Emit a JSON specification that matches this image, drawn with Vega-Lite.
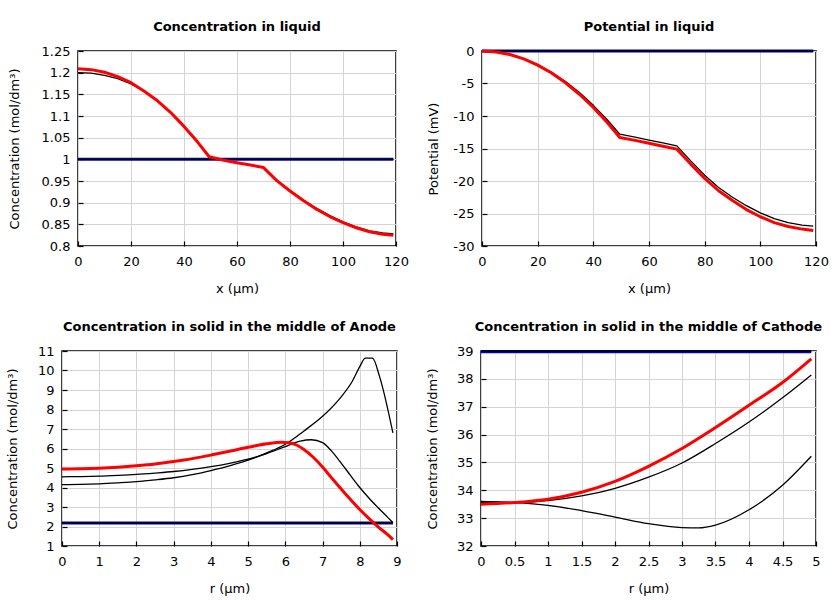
{
  "$schema": "https://vega.github.io/schema/vega-lite/v6.json",
  "padding": {"left": 5, "top": 20, "right": 5, "bottom": 5},
  "background": "white",
  "datasets": {
    "liq": [
      {"s": "blue", "x": 0, "y": 1}, {"s": "blue", "x": 119, "y": 1},
      {"s": "k0", "x": 0, "y": 1}, {"s": "k0", "x": 119, "y": 1},
      {"s": "k1", "x": 0, "y": 1.2}, {"s": "k1", "x": 5, "y": 1.199}, {"s": "k1", "x": 10, "y": 1.194}, {"s": "k1", "x": 15, "y": 1.186}, {"s": "k1", "x": 20, "y": 1.174}, {"s": "k1", "x": 25, "y": 1.157}, {"s": "k1", "x": 30, "y": 1.135}, {"s": "k1", "x": 35, "y": 1.107}, {"s": "k1", "x": 40, "y": 1.075}, {"s": "k1", "x": 45, "y": 1.04}, {"s": "k1", "x": 49.5, "y": 1.006}, {"s": "k1", "x": 55, "y": 0.998}, {"s": "k1", "x": 60, "y": 0.992}, {"s": "k1", "x": 65, "y": 0.987}, {"s": "k1", "x": 70, "y": 0.981}, {"s": "k1", "x": 75, "y": 0.952}, {"s": "k1", "x": 80, "y": 0.928}, {"s": "k1", "x": 85, "y": 0.906}, {"s": "k1", "x": 90, "y": 0.887}, {"s": "k1", "x": 95, "y": 0.87}, {"s": "k1", "x": 100, "y": 0.856}, {"s": "k1", "x": 105, "y": 0.844}, {"s": "k1", "x": 110, "y": 0.835}, {"s": "k1", "x": 115, "y": 0.83}, {"s": "k1", "x": 119, "y": 0.828},
      {"s": "red", "x": 0, "y": 1.209}, {"s": "red", "x": 5, "y": 1.207}, {"s": "red", "x": 10, "y": 1.201}, {"s": "red", "x": 15, "y": 1.191}, {"s": "red", "x": 20, "y": 1.177}, {"s": "red", "x": 25, "y": 1.157}, {"s": "red", "x": 30, "y": 1.135}, {"s": "red", "x": 35, "y": 1.108}, {"s": "red", "x": 40, "y": 1.076}, {"s": "red", "x": 45, "y": 1.041}, {"s": "red", "x": 49.5, "y": 1.006}, {"s": "red", "x": 55, "y": 0.998}, {"s": "red", "x": 60, "y": 0.992}, {"s": "red", "x": 65, "y": 0.987}, {"s": "red", "x": 70, "y": 0.981}, {"s": "red", "x": 75, "y": 0.951}, {"s": "red", "x": 80, "y": 0.927}, {"s": "red", "x": 85, "y": 0.905}, {"s": "red", "x": 90, "y": 0.885}, {"s": "red", "x": 95, "y": 0.868}, {"s": "red", "x": 100, "y": 0.854}, {"s": "red", "x": 105, "y": 0.842}, {"s": "red", "x": 110, "y": 0.833}, {"s": "red", "x": 115, "y": 0.827}, {"s": "red", "x": 119, "y": 0.825}
    ],
    "pot": [
      {"s": "blue", "x": 0, "y": 0}, {"s": "blue", "x": 119, "y": 0},
      {"s": "k0", "x": 0, "y": 0}, {"s": "k0", "x": 119, "y": 0},
      {"s": "k1", "x": 0, "y": 0}, {"s": "k1", "x": 5, "y": -0.13}, {"s": "k1", "x": 10, "y": -0.52}, {"s": "k1", "x": 15, "y": -1.18}, {"s": "k1", "x": 20, "y": -2.09}, {"s": "k1", "x": 25, "y": -3.27}, {"s": "k1", "x": 30, "y": -4.7}, {"s": "k1", "x": 35, "y": -6.4}, {"s": "k1", "x": 40, "y": -8.36}, {"s": "k1", "x": 45, "y": -10.58}, {"s": "k1", "x": 49.5, "y": -12.8}, {"s": "k1", "x": 55, "y": -13.25}, {"s": "k1", "x": 60, "y": -13.7}, {"s": "k1", "x": 65, "y": -14.15}, {"s": "k1", "x": 70, "y": -14.6}, {"s": "k1", "x": 75, "y": -16.9}, {"s": "k1", "x": 80, "y": -19.1}, {"s": "k1", "x": 85, "y": -21.0}, {"s": "k1", "x": 90, "y": -22.5}, {"s": "k1", "x": 95, "y": -23.8}, {"s": "k1", "x": 100, "y": -24.9}, {"s": "k1", "x": 105, "y": -25.8}, {"s": "k1", "x": 110, "y": -26.4}, {"s": "k1", "x": 115, "y": -26.8}, {"s": "k1", "x": 119, "y": -26.95},
      {"s": "red", "x": 0, "y": 0}, {"s": "red", "x": 5, "y": -0.14}, {"s": "red", "x": 10, "y": -0.54}, {"s": "red", "x": 15, "y": -1.22}, {"s": "red", "x": 20, "y": -2.17}, {"s": "red", "x": 25, "y": -3.39}, {"s": "red", "x": 30, "y": -4.89}, {"s": "red", "x": 35, "y": -6.65}, {"s": "red", "x": 40, "y": -8.69}, {"s": "red", "x": 45, "y": -10.99}, {"s": "red", "x": 49.5, "y": -13.3}, {"s": "red", "x": 55, "y": -13.75}, {"s": "red", "x": 60, "y": -14.2}, {"s": "red", "x": 65, "y": -14.65}, {"s": "red", "x": 70, "y": -15.1}, {"s": "red", "x": 75, "y": -17.4}, {"s": "red", "x": 80, "y": -19.6}, {"s": "red", "x": 85, "y": -21.5}, {"s": "red", "x": 90, "y": -23.0}, {"s": "red", "x": 95, "y": -24.4}, {"s": "red", "x": 100, "y": -25.5}, {"s": "red", "x": 105, "y": -26.4}, {"s": "red", "x": 110, "y": -27.0}, {"s": "red", "x": 115, "y": -27.4}, {"s": "red", "x": 119, "y": -27.6}
    ],
    "ano": [
      {"s": "blue", "x": 0, "y": 2.18}, {"s": "blue", "x": 8.89, "y": 2.18},
      {"s": "k0", "x": 0, "y": 2.18}, {"s": "k0", "x": 8.89, "y": 2.18},
      {"s": "k1", "x": 0, "y": 4.55}, {"s": "k1", "x": 0.5, "y": 4.56}, {"s": "k1", "x": 1, "y": 4.58}, {"s": "k1", "x": 1.5, "y": 4.62}, {"s": "k1", "x": 2, "y": 4.67}, {"s": "k1", "x": 2.5, "y": 4.74}, {"s": "k1", "x": 3, "y": 4.82}, {"s": "k1", "x": 3.5, "y": 4.93}, {"s": "k1", "x": 4, "y": 5.07}, {"s": "k1", "x": 4.5, "y": 5.24}, {"s": "k1", "x": 5, "y": 5.45}, {"s": "k1", "x": 5.5, "y": 5.74}, {"s": "k1", "x": 6, "y": 6.1}, {"s": "k1", "x": 6.4, "y": 6.38}, {"s": "k1", "x": 6.7, "y": 6.45}, {"s": "k1", "x": 7, "y": 6.3}, {"s": "k1", "x": 7.25, "y": 5.85}, {"s": "k1", "x": 7.5, "y": 5.25}, {"s": "k1", "x": 7.75, "y": 4.62}, {"s": "k1", "x": 8, "y": 4.0}, {"s": "k1", "x": 8.25, "y": 3.45}, {"s": "k1", "x": 8.5, "y": 2.95}, {"s": "k1", "x": 8.75, "y": 2.47}, {"s": "k1", "x": 8.89, "y": 2.2},
      {"s": "k2", "x": 0, "y": 4.15}, {"s": "k2", "x": 0.5, "y": 4.16}, {"s": "k2", "x": 1, "y": 4.19}, {"s": "k2", "x": 1.5, "y": 4.24}, {"s": "k2", "x": 2, "y": 4.3}, {"s": "k2", "x": 2.5, "y": 4.39}, {"s": "k2", "x": 3, "y": 4.5}, {"s": "k2", "x": 3.5, "y": 4.66}, {"s": "k2", "x": 4, "y": 4.87}, {"s": "k2", "x": 4.5, "y": 5.11}, {"s": "k2", "x": 5, "y": 5.4}, {"s": "k2", "x": 5.5, "y": 5.78}, {"s": "k2", "x": 6, "y": 6.22}, {"s": "k2", "x": 6.5, "y": 6.9}, {"s": "k2", "x": 7, "y": 7.65}, {"s": "k2", "x": 7.5, "y": 8.65}, {"s": "k2", "x": 7.8, "y": 9.45}, {"s": "k2", "x": 8, "y": 10.2}, {"s": "k2", "x": 8.15, "y": 10.63}, {"s": "k2", "x": 8.34, "y": 10.63}, {"s": "k2", "x": 8.53, "y": 9.7}, {"s": "k2", "x": 8.89, "y": 6.8},
      {"s": "red", "x": 0, "y": 4.95}, {"s": "red", "x": 0.5, "y": 4.96}, {"s": "red", "x": 1, "y": 4.99}, {"s": "red", "x": 1.5, "y": 5.04}, {"s": "red", "x": 2, "y": 5.11}, {"s": "red", "x": 2.5, "y": 5.2}, {"s": "red", "x": 3, "y": 5.33}, {"s": "red", "x": 3.5, "y": 5.48}, {"s": "red", "x": 4, "y": 5.66}, {"s": "red", "x": 4.5, "y": 5.86}, {"s": "red", "x": 5, "y": 6.06}, {"s": "red", "x": 5.5, "y": 6.24}, {"s": "red", "x": 5.9, "y": 6.32}, {"s": "red", "x": 6.1, "y": 6.3}, {"s": "red", "x": 6.3, "y": 6.18}, {"s": "red", "x": 6.5, "y": 5.95}, {"s": "red", "x": 6.75, "y": 5.55}, {"s": "red", "x": 7, "y": 5.05}, {"s": "red", "x": 7.25, "y": 4.48}, {"s": "red", "x": 7.5, "y": 3.92}, {"s": "red", "x": 7.75, "y": 3.38}, {"s": "red", "x": 8, "y": 2.87}, {"s": "red", "x": 8.25, "y": 2.4}, {"s": "red", "x": 8.5, "y": 1.97}, {"s": "red", "x": 8.75, "y": 1.58}, {"s": "red", "x": 8.89, "y": 1.33}
    ],
    "cat": [
      {"s": "blue", "x": 0, "y": 38.97}, {"s": "blue", "x": 4.93, "y": 38.97},
      {"s": "k0", "x": 0, "y": 39.0}, {"s": "k0", "x": 4.93, "y": 39.0},
      {"s": "k1", "x": 0, "y": 33.57}, {"s": "k1", "x": 0.5, "y": 33.56}, {"s": "k1", "x": 1, "y": 33.63}, {"s": "k1", "x": 1.5, "y": 33.8}, {"s": "k1", "x": 2, "y": 34.07}, {"s": "k1", "x": 2.5, "y": 34.47}, {"s": "k1", "x": 3, "y": 34.98}, {"s": "k1", "x": 3.5, "y": 35.68}, {"s": "k1", "x": 4, "y": 36.45}, {"s": "k1", "x": 4.5, "y": 37.32}, {"s": "k1", "x": 4.93, "y": 38.14},
      {"s": "k2", "x": 0, "y": 33.6}, {"s": "k2", "x": 0.5, "y": 33.56}, {"s": "k2", "x": 1, "y": 33.46}, {"s": "k2", "x": 1.5, "y": 33.27}, {"s": "k2", "x": 2, "y": 33.04}, {"s": "k2", "x": 2.5, "y": 32.8}, {"s": "k2", "x": 3, "y": 32.66}, {"s": "k2", "x": 3.25, "y": 32.65}, {"s": "k2", "x": 3.5, "y": 32.75}, {"s": "k2", "x": 4, "y": 33.3}, {"s": "k2", "x": 4.5, "y": 34.18}, {"s": "k2", "x": 4.93, "y": 35.22},
      {"s": "red", "x": 0, "y": 33.5}, {"s": "red", "x": 0.5, "y": 33.56}, {"s": "red", "x": 1, "y": 33.68}, {"s": "red", "x": 1.5, "y": 33.93}, {"s": "red", "x": 2, "y": 34.32}, {"s": "red", "x": 2.5, "y": 34.86}, {"s": "red", "x": 3, "y": 35.5}, {"s": "red", "x": 3.5, "y": 36.25}, {"s": "red", "x": 4, "y": 37.05}, {"s": "red", "x": 4.5, "y": 37.87}, {"s": "red", "x": 4.93, "y": 38.72}
    ]
  },
  "config": {
    "font": "DejaVu Sans",
    "view": {"stroke": "black", "strokeWidth": 1.5},
    "title": {"fontSize": 13, "fontWeight": "bold", "font": "DejaVu Sans", "color": "black", "offset": 11, "anchor": "middle"},
    "axis": {
      "labelFontSize": 13, "titleFontSize": 13, "titleFontWeight": "normal",
      "labelColor": "black", "titleColor": "black",
      "domain": false, "gridColor": "#d4d4d4", "gridWidth": 1,
      "tickColor": "black", "tickSize": -5, "tickWidth": 1.2,
      "labelPadding": 13, "labelExpr": "datum.value + ''", "labelFlush": false
    },
    "axisX": {"titlePadding": 14, "labelPadding": 14},
    "line": {"strokeJoin": "round", "strokeCap": "butt", "interpolate": "monotone"}
  },
  "vconcat": [
    {
      "hconcat": [
        {
          "hconcat": [
            {
              "width": 1, "height": 1,
              "data": {"values": []},
              "mark": {"type": "point", "opacity": 0},
              "view": {"stroke": null}
            },
            {
              "title": "Concentration in liquid",
              "width": 318, "height": 195,
              "data": {"name": "liq"},
              "encoding": {
                "x": {"field": "x", "type": "quantitative", "title": "x (µm)", "scale": {"domain": [0, 120], "nice": false}, "axis": {"values": [0, 20, 40, 60, 80, 100, 120]}},
                "y": {"field": "y", "type": "quantitative", "title": "Concentration (mol/dm³)", "scale": {"domain": [0.8, 1.25], "nice": false, "zero": false}, "axis": {"values": [0.8, 0.85, 0.9, 0.95, 1, 1.05, 1.1, 1.15, 1.2, 1.25], "titlePadding": 20}}
              },
              "layer": [
                {"transform": [{"filter": "datum.s === 'blue'"}], "mark": {"type": "line", "color": "#0000c8", "strokeWidth": 3}},
                {"transform": [{"filter": "datum.s === 'k0' || datum.s === 'k1' || datum.s === 'k2'"}], "mark": {"type": "line", "color": "black", "strokeWidth": 1.3, "interpolate": "linear"}, "encoding": {"detail": {"field": "s"}}},
                {"transform": [{"filter": "datum.s === 'red'"}], "mark": {"type": "line", "color": "#ff0000", "strokeWidth": 3, "interpolate": "linear"}}
              ]
            }
          ],
          "spacing": -56
        },
        {
          "title": "Potential in liquid",
          "width": 334, "height": 195,
          "data": {"name": "pot"},
          "encoding": {
            "x": {"field": "x", "type": "quantitative", "title": "x (µm)", "scale": {"domain": [0, 120], "nice": false}, "axis": {"values": [0, 20, 40, 60, 80, 100, 120]}},
            "y": {"field": "y", "type": "quantitative", "title": "Potential (mV)", "scale": {"domain": [-30, 0], "nice": false}, "axis": {"values": [-30, -25, -20, -15, -10, -5, 0], "titlePadding": 12}}
          },
          "layer": [
            {"transform": [{"filter": "datum.s === 'blue'"}], "mark": {"type": "line", "color": "#0000c8", "strokeWidth": 3}},
            {"transform": [{"filter": "datum.s === 'k0' || datum.s === 'k1' || datum.s === 'k2'"}], "mark": {"type": "line", "color": "black", "strokeWidth": 1.3, "interpolate": "linear"}, "encoding": {"detail": {"field": "s"}}},
            {"transform": [{"filter": "datum.s === 'red'"}], "mark": {"type": "line", "color": "#ff0000", "strokeWidth": 3, "interpolate": "linear"}}
          ]
        }
      ],
      "spacing": 17
    },
    {
      "hconcat": [
        {
          "title": "Concentration in solid in the middle of Anode",
          "width": 335, "height": 195,
          "data": {"name": "ano"},
          "encoding": {
            "x": {"field": "x", "type": "quantitative", "title": "r (µm)", "scale": {"domain": [0, 9], "nice": false}, "axis": {"values": [0, 1, 2, 3, 4, 5, 6, 7, 8, 9]}},
            "y": {"field": "y", "type": "quantitative", "title": "Concentration (mol/dm³)", "scale": {"domain": [1, 11], "nice": false, "zero": false}, "axis": {"values": [1, 2, 3, 4, 5, 6, 7, 8, 9, 10, 11], "titlePadding": 18}}
          },
          "layer": [
            {"transform": [{"filter": "datum.s === 'blue'"}], "mark": {"type": "line", "color": "#0000c8", "strokeWidth": 3}},
            {"transform": [{"filter": "datum.s === 'k0' || datum.s === 'k1' || datum.s === 'k2'"}], "mark": {"type": "line", "color": "black", "strokeWidth": 1.3}, "encoding": {"detail": {"field": "s"}}},
            {"transform": [{"filter": "datum.s === 'red'"}], "mark": {"type": "line", "color": "#ff0000", "strokeWidth": 3}}
          ]
        },
        {
          "title": "Concentration in solid in the middle of Cathode",
          "width": 335, "height": 195,
          "data": {"name": "cat"},
          "encoding": {
            "x": {"field": "x", "type": "quantitative", "title": "r (µm)", "scale": {"domain": [0, 5], "nice": false}, "axis": {"values": [0, 0.5, 1, 1.5, 2, 2.5, 3, 3.5, 4, 4.5, 5]}},
            "y": {"field": "y", "type": "quantitative", "title": "Concentration (mol/dm³)", "scale": {"domain": [32, 39], "nice": false, "zero": false}, "axis": {"values": [32, 33, 34, 35, 36, 37, 38, 39], "titlePadding": 17}}
          },
          "layer": [
            {"transform": [{"filter": "datum.s === 'blue'"}], "mark": {"type": "line", "color": "#0000c8", "strokeWidth": 3}},
            {"transform": [{"filter": "datum.s === 'k0' || datum.s === 'k1' || datum.s === 'k2'"}], "mark": {"type": "line", "color": "black", "strokeWidth": 1.3}, "encoding": {"detail": {"field": "s"}}},
            {"transform": [{"filter": "datum.s === 'red'"}], "mark": {"type": "line", "color": "#ff0000", "strokeWidth": 3}}
          ]
        }
      ],
      "spacing": 23
    }
  ],
  "spacing": 24
}
